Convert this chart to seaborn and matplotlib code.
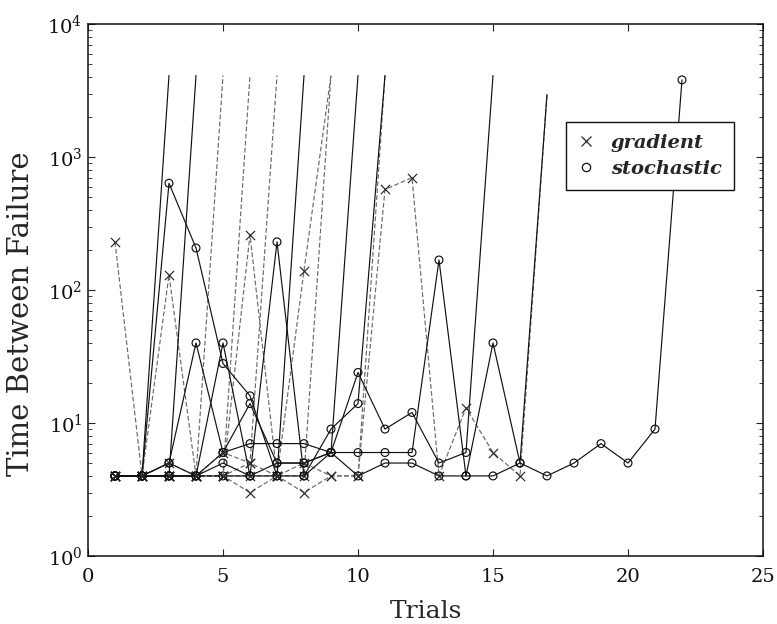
import numpy as np
import pandas as pd
import matplotlib
matplotlib.use("Agg")
import matplotlib.pyplot as plt
import seaborn as sns
from matplotlib.lines import Line2D
from matplotlib.ticker import LogLocator, NullFormatter

# ---- data: time between failures per trial, one list per learning run ----
grad_run1 = [230, 4, 130, 4, 4100]
grad_run2 = [4, 4, 4, 4, 4, 260, 4, 140, 4100]
grad_run3 = [4, 4, 4, 4, 4, 4100]
grad_run4 = [4, 4, 5, 4, 6, 5, 4100]
grad_run5 = [4, 4, 4, 4, 4, 3, 4, 3, 4, 4, 4100]
grad_run6 = [4, 4, 4, 4, 4, 5, 4, 5, 4, 4, 570, 700, 4, 13, 6, 4, 2950]
grad_run7 = [4, 4, 4, 4, 4, 4, 4, 4, 4100]

stoch_run1 = [4, 4, 4100]
stoch_run2 = [4, 4, 4, 4100]
stoch_run3 = [4, 4, 635, 207, 28, 16, 4, 4100]
stoch_run4 = [4, 4, 5, 40, 6, 14, 5, 5, 6, 4, 5, 5, 4, 4, 40, 5, 2950]
stoch_run5 = [4, 4, 4, 4, 40, 4, 230, 4, 9, 14, 4100]
stoch_run6 = [4, 4, 5, 4, 6, 7, 7, 7, 6, 6, 6, 6, 168, 4, 4, 5, 4, 5, 7, 5, 9, 3800]
stoch_run7 = [4, 4, 4, 4, 5, 4, 4, 4, 6, 4100]
stoch_run8 = [4, 4, 4, 4, 4, 4, 5, 5, 6, 24, 9, 12, 5, 6, 4100]

gradient_runs = [grad_run1, grad_run2, grad_run3, grad_run4, grad_run5, grad_run6, grad_run7]
stochastic_runs = [stoch_run1, stoch_run2, stoch_run3, stoch_run4, stoch_run5,
                   stoch_run6, stoch_run7, stoch_run8]
# runs whose final (successful) trial is drawn with a marker
final_marked = ["stochastic 6"]

legend_labels = ["gradient", "stochastic"]
x_ticks = [0, 5, 10, 15, 20, 25]

# ---- build long table ----
rows = []
for method, runs in (("gradient", gradient_runs), ("stochastic", stochastic_runs)):
    for i, vals in enumerate(runs, start=1):
        name = f"{method} {i}"
        n = len(vals)
        for t, v in enumerate(vals, start=1):
            rows.append(dict(method=method, run=name, trial=t, tbf=v,
                             marked=(t < n) or (name in final_marked)))
df = pd.DataFrame(rows)

# ---- style ----
sns.set_style("ticks")
plt.rcParams["font.family"] = ["DejaVu Serif"]
plt.rcParams["mathtext.fontset"] = "dejavuserif"

fig = plt.figure(figsize=(7.77, 6.24), dpi=100)
ax = fig.add_axes([88 / 777, 68 / 624, 675 / 777, 532 / 624])
ax.set_yscale("log")

sns.lineplot(data=df, x="trial", y="tbf", units="run", estimator=None,
             hue="method", style="method",
             palette={"gradient": "#6a6a6a", "stochastic": "#111111"},
             dashes={"gradient": (4, 2), "stochastic": ""},
             linewidth=0.85, legend=False, sort=False, ax=ax)

dm = df[df["marked"]]
sns.scatterplot(data=dm[dm["method"] == "gradient"], x="trial", y="tbf",
                marker="x", color="#2a2a2a", s=44, linewidth=0.85,
                legend=False, ax=ax, zorder=3)
sns.scatterplot(data=dm[dm["method"] == "stochastic"], x="trial", y="tbf",
                marker="o", color="#111111", facecolors="none",
                edgecolor="#111111", s=32, linewidth=0.85,
                legend=False, ax=ax, zorder=3)

ax.set_xlim(0, 25)
ax.set_ylim(1, 1e4)
ax.set_xticks(x_ticks)
ax.yaxis.set_major_locator(LogLocator(base=10, numticks=10))
ax.yaxis.set_minor_locator(LogLocator(base=10, subs=np.arange(2, 10), numticks=20))
ax.yaxis.set_minor_formatter(NullFormatter())

ax.tick_params(which="both", direction="in", top=True, right=True,
               colors="#222222", labelcolor="#111111")
ax.tick_params(which="major", length=5, width=0.8, labelsize=14)
ax.tick_params(which="minor", length=3, width=0.6)
ax.tick_params(axis="x", pad=9)
ax.tick_params(axis="y", pad=4)
for sp in ax.spines.values():
    sp.set_linewidth(1.1)
    sp.set_color("#111111")

ax.set_xlabel("Trials", fontsize=18, labelpad=10)
ax.set_ylabel("Time Between Failure", fontsize=21)
ax.yaxis.set_label_coords(-0.078, 0.455)

handles = [
    Line2D([], [], marker="x", linestyle="none", color="#2a2a2a",
           markersize=7, markeredgewidth=0.9),
    Line2D([], [], marker="o", linestyle="none", markerfacecolor="none",
           markeredgecolor="#111111", markersize=6, markeredgewidth=0.9),
]
leg = ax.legend(handles, legend_labels, loc="upper left",
                bbox_to_anchor=(0.708, 0.816), borderaxespad=0,
                frameon=True, fancybox=False,
                framealpha=1, edgecolor="#111111", handlelength=0.8,
                handletextpad=0.9, borderpad=0.62, labelspacing=0.42,
                prop=dict(family="DejaVu Serif", style="italic",
                          weight="bold", size=14))
leg.get_frame().set_linewidth(1.0)

fig.savefig("out.png", dpi=100)
